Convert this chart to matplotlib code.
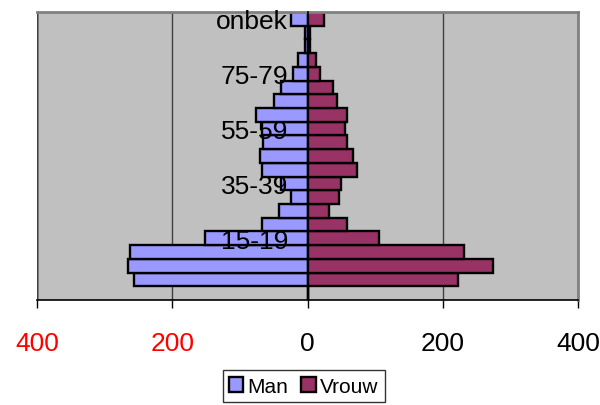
import matplotlib
matplotlib.use("Agg")
import matplotlib.pyplot as plt
import numpy as np

categories = ["", "0-4", "5-9", "10-14", "15-19", "20-24", "25-29", "30-34",
              "35-39", "40-44", "45-49", "50-54", "55-59", "60-64", "65-69",
              "70-74", "75-79", "80-84", "85-89", "90+", "onbek"]
man = [0, 256, 265, 263, 151, 67, 42, 25, 39, 67, 70, 66, 68, 76, 50,
       39, 22, 14, 4, 3, 25]
vrouw = [0, 222, 275, 231, 105, 58, 32, 46, 49, 73, 68, 58, 56, 59, 43,
         37, 18, 12, 4, 3, 24]
xticks = [-400, -200, 0, 200, 400]
xticklabels = ["400", "200", "0", "200", "400"]

plt.rcParams['font.family'] = ['Liberation Sans', 'DejaVu Sans']

fig = plt.figure(figsize=(6.0, 4.06), dpi=100)
ax = fig.add_axes([37/600, 1-301/406, 541/600, 288/406])
ax.set_facecolor('#C0C0C0')

# spines first (set_position resets ticks)
ax.spines['left'].set_position(('data', 0))
ax.spines['left'].set_color('black')
ax.spines['left'].set_linewidth(1.2)
ax.spines['left'].set_zorder(3)
ax.spines['right'].set_color('#808080')
ax.spines['top'].set_color('#808080')
ax.spines['right'].set_linewidth(2)
ax.spines['top'].set_linewidth(2)
ax.spines['bottom'].set_color('black')
ax.spines['bottom'].set_linewidth(1.2)

y = np.arange(len(categories))
ax.barh(y, -np.array(man), height=1.0, color='#9999FF', edgecolor='black',
        linewidth=1.7, label='Man', zorder=2)
ax.barh(y, vrouw, height=1.0, color='#993366', edgecolor='black',
        linewidth=1.7, label='Vrouw', zorder=2)

ax.set_xlim(-400, 400)
ax.set_ylim(-0.5, len(categories) - 0.5)

ax.set_xticks(xticks)
ax.set_xticklabels(xticklabels)
ax.tick_params(axis='x', direction='out', length=6, width=1, pad=16,
               colors='black', labelsize=19)
for lbl, v in zip(ax.get_xticklabels(), xticks):
    lbl.set_color('red' if v < 0 else 'black')

ax.set_yticks(y[::4])
ax.set_yticklabels(categories[::4])
ax.tick_params(axis='y', length=0, pad=14, labelsize=19)
ax.yaxis.set_zorder(4)

ax.grid(axis='x', color='#404040', linewidth=1)
for gl in ax.get_xgridlines():
    gl.set_zorder(1)

# gray border on the left edge of the plot area
ax.axvline(-400, color='#808080', linewidth=2, zorder=1)

leg = fig.legend(loc='lower center', bbox_to_anchor=(0.506, -0.008), ncol=2,
                 fontsize=15, frameon=True, fancybox=False, edgecolor='black',
                 handlelength=0.7, handleheight=0.7, handletextpad=0.2,
                 columnspacing=0.6, borderpad=0.3, borderaxespad=0.3)
leg.get_frame().set_linewidth(1)

fig.savefig('out.png', dpi=100)
